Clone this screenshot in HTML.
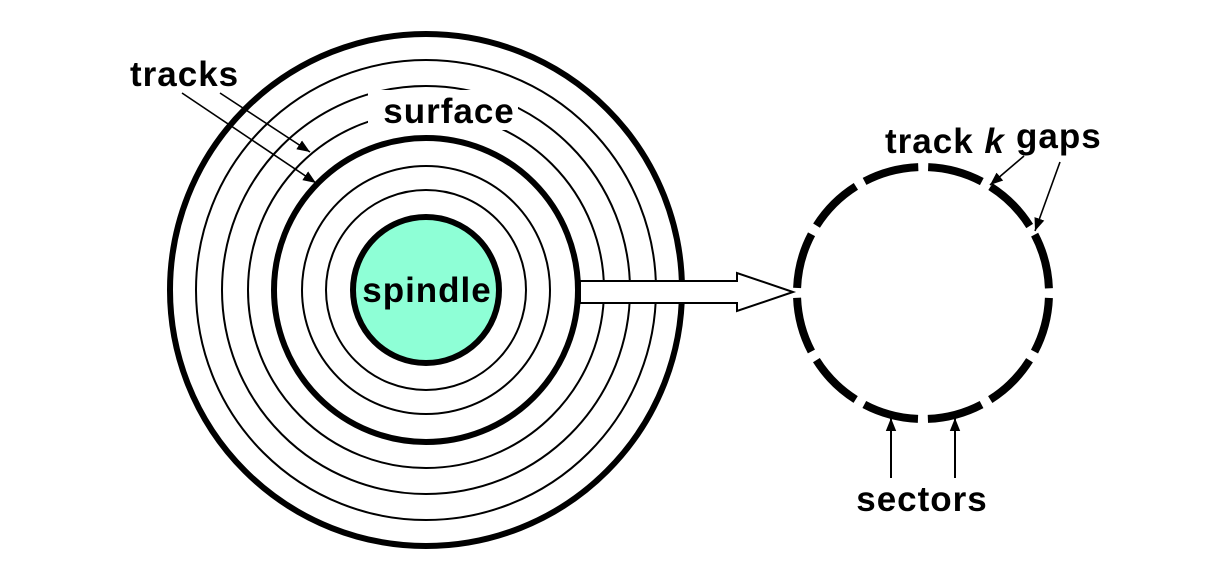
<!DOCTYPE html>
<html><head><meta charset="utf-8"><style>
html,body{margin:0;padding:0;background:#fff;}
svg{display:block;}
text{font-family:"Liberation Sans",Arial,sans-serif;font-weight:bold;fill:#000;letter-spacing:1px;}
</style></head><body>
<svg width="1228" height="562" viewBox="0 0 1228 562">
<defs>
<marker id="ah" viewBox="0 0 10 10" refX="10" refY="5" markerWidth="13" markerHeight="13" markerUnits="userSpaceOnUse" orient="auto">
<path d="M0,1 L10,5 L0,9 z" fill="#000"/></marker>
</defs>
<g fill="none" stroke="#000">
<circle cx="426" cy="290" r="256" stroke-width="6"/>
<circle cx="426" cy="290" r="230" stroke-width="2"/>
<circle cx="426" cy="290" r="204" stroke-width="2"/>
<circle cx="426" cy="290" r="178" stroke-width="2"/>
<circle cx="426" cy="290" r="152" stroke-width="6"/>
<circle cx="426" cy="290" r="124" stroke-width="2"/>
<circle cx="426" cy="290" r="100" stroke-width="2"/>
</g>
<circle cx="426" cy="290" r="73" fill="#8effd6" stroke="#000" stroke-width="6"/>
<text x="427" y="302" font-size="35" text-anchor="middle">spindle</text>
<rect x="368" y="90" width="150" height="40" fill="#fff"/>
<text x="449" y="123" font-size="35" text-anchor="middle">surface</text>
<text x="130" y="86" font-size="35">tracks</text>
<line x1="220" y1="93" x2="310" y2="152" stroke="#000" stroke-width="1.6" marker-end="url(#ah)"/>
<line x1="182" y1="93" x2="316" y2="183" stroke="#000" stroke-width="1.6" marker-end="url(#ah)"/>
<path d="M580,281 L737,281 L737,273 L793,292 L737,311 L737,303 L580,303 Z" fill="#fff" stroke="#000" stroke-width="2"/>
<circle cx="923" cy="293" r="126" fill="none" stroke="#000" stroke-width="8" stroke-dasharray="55.97 10" stroke-dashoffset="60.97"/>
<text x="885" y="153" font-size="35">track <tspan font-style="italic">k</tspan></text>
<text x="1016" y="148" font-size="35">gaps</text>
<line x1="1024" y1="156" x2="990" y2="185" stroke="#000" stroke-width="1.6" marker-end="url(#ah)"/>
<line x1="1060" y1="162" x2="1035" y2="231" stroke="#000" stroke-width="1.6" marker-end="url(#ah)"/>
<line x1="891" y1="478" x2="891" y2="418" stroke="#000" stroke-width="2" marker-end="url(#ah)"/>
<line x1="955" y1="478" x2="955" y2="418" stroke="#000" stroke-width="2" marker-end="url(#ah)"/>
<text x="922" y="511" font-size="35" text-anchor="middle">sectors</text>
</svg>
</body></html>
